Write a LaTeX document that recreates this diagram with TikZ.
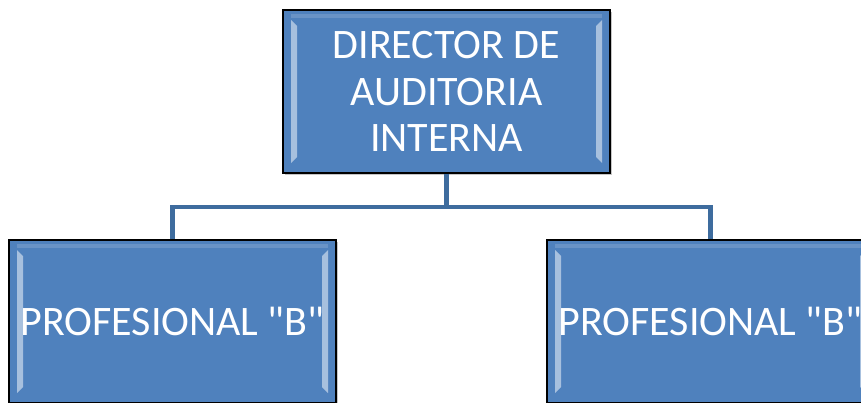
\documentclass[tikz,border=0pt]{standalone}
\usepackage{fontspec}
\newfontfamily\carlito{Carlito}
\usetikzlibrary{calc,shadows}
\definecolor{boxblue}{HTML}{4F81BD}
\definecolor{linkblue}{HTML}{3E6C9E}
\begin{document}
\begin{tikzpicture}[x=1pt,y=-1pt]
		\tikzstyle{every node}=[font=\carlito\fontsize{42}{46.5}\selectfont]
		\tikzstyle{post}=[draw=black,line width=1.2pt,fill=boxblue,text=white,align=center,
			minimum width=327pt,minimum height=163pt,inner sep=0pt,
			drop shadow={shadow xshift=2pt,shadow yshift=-2pt,opacity=.45},
			path picture={
				\fill[white,opacity=.5] ($(path picture bounding box.north west)+(8pt,-10pt)$) -- ++(6pt,-6pt) -- ($(path picture bounding box.south west)+(14pt,16pt)$) -- ++(-6pt,-6pt) -- cycle;
				\fill[white,opacity=.5] ($(path picture bounding box.north east)+(-8pt,-10pt)$) -- ++(-6pt,-6pt) -- ($(path picture bounding box.south east)+(-14pt,16pt)$) -- ++(6pt,-6pt) -- cycle;
				\fill[white,opacity=.15] ($(path picture bounding box.north west)+(8pt,-4pt)$) rectangle ($(path picture bounding box.north east)+(-8pt,-8pt)$);
			}]
		\tikzstyle{link}=[draw=linkblue,line width=4.5pt]
		
		\useasboundingbox (0,0) rectangle (861,402);
		\clip (0,0) rectangle (861,402);
		
		\node [post] (dir) at (446.5,91.5) {DIRECTOR DE\\AUDITORIA\\INTERNA};
		\node [post] (prof1) at (172.5,321.5) {PROFESIONAL "B"};
		\node [post] (prof2) at (710.5,321.5) {PROFESIONAL "B"};
		
		\coordinate (bus) at (446.5,207);
		\draw [link] (dir.south) -- (bus);
		\draw [link] (prof1.north) |- (bus) -| (prof2.north);
		
		\end{tikzpicture}
\end{document}
